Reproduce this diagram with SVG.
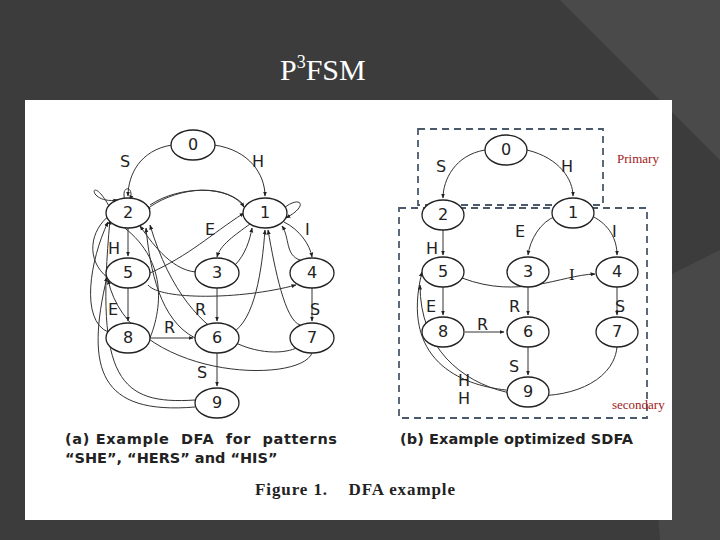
<svg xmlns="http://www.w3.org/2000/svg" width="720" height="540" viewBox="0 0 720 540">
<defs>
<marker id="a" viewBox="0 0 10 10" refX="9" refY="5" markerWidth="5" markerHeight="5" orient="auto"><path d="M0,1 L10,5 L0,9z" fill="#222"/></marker>
<style>
.n ellipse{fill:#fff;stroke:#222;stroke-width:1.3}
.n text{font-family:"DejaVu Sans",sans-serif;font-size:16px;text-anchor:middle;fill:#222}
.e path{fill:none;stroke:#333;stroke-width:1;marker-end:url(#a)}
.l{font-family:"DejaVu Sans",sans-serif;font-size:16px;fill:#222}
.cap{font-family:"DejaVu Sans",sans-serif;font-size:14.5px;font-weight:bold;fill:#222}
.box{fill:none;stroke:#4a5a6a;stroke-width:1.8;stroke-dasharray:7 5}
.red{font-family:"Liberation Serif",serif;font-size:13px;fill:#a02020}
</style>
</defs>
<rect width="720" height="540" fill="#3c3c3c"/>
<path d="M560,0 L720,0 L720,160 Z" fill="#4a4a4a"/>
<path d="M640,290 L720,250 L720,540 L660,540 Z" fill="#484848"/>
<text x="280" y="80" font-family="Liberation Serif,serif" font-size="30" fill="#fff">P<tspan font-size="18" dy="-12">3</tspan><tspan dy="12">FSM</tspan></text>
<rect x="25" y="100" width="647" height="420" fill="#fff"/>
<rect class="box" x="418" y="129" width="185" height="76"/>
<rect class="box" x="399" y="208" width="248" height="210"/>
<g id="edges-left" class="e">
<path d="M172,145 C140,150 128,175 128,196"/>
<path d="M214,145 C250,150 265,175 265,196"/>
<path d="M128,228 L128,256"/>
<path d="M128,288 L128,321"/>
<path d="M150,338 L193,338"/>
<path d="M217,288 L217,321"/>
<path d="M217,353 L217,386"/>
<path d="M312,288 L312,321"/>
<path d="M250,224 C235,235 220,245 217,257"/>
<path d="M284,222 C300,230 310,245 312,257"/>
<path d="M235,265 C245,255 250,240 252,228"/>
<path d="M232,333 C255,320 262,270 265,230"/>
<path d="M300,325 C285,320 275,270 268,230"/>
<path d="M300,260 C285,255 290,238 282,226"/>
<path d="M284,208 C300,195 310,205 286,218"/>
<path d="M150,273 C190,255 210,235 244,213"/>
<path d="M150,338 C165,300 165,250 110,218" />
<path d="M150,205 C180,185 230,185 244,207"/>
<path d="M244,205 C220,180 170,190 146,210"/>
<path d="M196,272 C170,270 150,240 140,226"/>
<path d="M195,338 C160,320 150,270 146,228"/>
<path d="M148,285 C160,300 240,300 296,285"/>
<path d="M300,346 C280,360 190,360 150,225"/>
<path d="M312,353 C300,385 130,380 108,280"/>
<path d="M195,400 C120,405 95,380 110,220"/>
<path d="M195,407 C100,415 85,370 107,277"/>
<path d="M108,332 C80,320 90,260 108,222"/>
<path d="M108,278 C85,260 90,230 110,215"/>
<path d="M110,208 C90,170 85,205 118,200"/>
<path d="M125,200 C120,185 135,185 130,200"/>
</g>
<g id="edges-right" class="e">
<path d="M485,150 C455,155 443,180 443,198"/>
<path d="M527,150 C560,158 573,180 573,196"/>
<path d="M443,230 L443,255"/>
<path d="M443,287 L443,315"/>
<path d="M465,332 L504,332"/>
<path d="M528,287 L528,315"/>
<path d="M528,347 L528,375"/>
<path d="M617,287 L617,315"/>
<path d="M556,216 C540,222 530,240 528,255"/>
<path d="M592,216 C610,225 617,240 617,255"/>
<path d="M462,278 C520,300 560,275 595,274"/>
<path d="M506,390 C460,385 400,360 422,272"/>
<path d="M617,347 C610,420 420,420 420,285"/>
</g>
<g class="l">
<text x="120" y="167">S</text><text x="252" y="167">H</text>
<text x="108" y="254">H</text><text x="108" y="315">E</text>
<text x="164" y="333">R</text><text x="195" y="315">R</text>
<text x="197" y="378">S</text><text x="310" y="315">S</text>
<text x="205" y="235">E</text><text x="305" y="235">I</text>
<text x="436" y="172">S</text><text x="561" y="172">H</text>
<text x="426" y="254">H</text><text x="426" y="312">E</text>
<text x="477" y="330">R</text><text x="509" y="312">R</text>
<text x="509" y="372">S</text><text x="615" y="312">S</text>
<text x="515" y="237">E</text><text x="612" y="237">I</text>
<text x="458" y="386">H</text><text x="458" y="404">H</text>
</g>
<text x="569" y="280" font-family="Liberation Serif,serif" font-size="17" fill="#222">I</text>
<text x="617" y="163" class="red">Primary</text>
<text x="612" y="409" class="red">secondary</text>
<g id="n0" class="n"><ellipse cx="193" cy="145" rx="22" ry="15"/><text x="193" y="150">0</text></g>
<g id="n2" class="n"><ellipse cx="128" cy="213" rx="22" ry="15"/><text x="128" y="218">2</text></g>
<g id="n1" class="n"><ellipse cx="265" cy="213" rx="22" ry="15"/><text x="265" y="218">1</text></g>
<g id="n5" class="n"><ellipse cx="128" cy="273" rx="22" ry="15"/><text x="128" y="278">5</text></g>
<g id="n3" class="n"><ellipse cx="217" cy="273" rx="22" ry="15"/><text x="217" y="278">3</text></g>
<g id="n4" class="n"><ellipse cx="312" cy="273" rx="22" ry="15"/><text x="312" y="278">4</text></g>
<g id="n8" class="n"><ellipse cx="128" cy="338" rx="22" ry="15"/><text x="128" y="343">8</text></g>
<g id="n6" class="n"><ellipse cx="217" cy="338" rx="22" ry="15"/><text x="217" y="343">6</text></g>
<g id="n7" class="n"><ellipse cx="312" cy="338" rx="22" ry="15"/><text x="312" y="343">7</text></g>
<g id="n9" class="n"><ellipse cx="217" cy="403" rx="22" ry="15"/><text x="217" y="408">9</text></g>
<g id="m0" class="n"><ellipse cx="506" cy="150" rx="21" ry="15"/><text x="506" y="155">0</text></g>
<g id="m2" class="n"><ellipse cx="443" cy="215" rx="21" ry="15"/><text x="443" y="220">2</text></g>
<g id="m1" class="n"><ellipse cx="573" cy="213" rx="21" ry="15"/><text x="573" y="218">1</text></g>
<g id="m5" class="n"><ellipse cx="443" cy="272" rx="21" ry="15"/><text x="443" y="277">5</text></g>
<g id="m3" class="n"><ellipse cx="528" cy="272" rx="21" ry="15"/><text x="528" y="277">3</text></g>
<g id="m4" class="n"><ellipse cx="617" cy="272" rx="21" ry="15"/><text x="617" y="277">4</text></g>
<g id="m8" class="n"><ellipse cx="443" cy="332" rx="21" ry="15"/><text x="443" y="337">8</text></g>
<g id="m6" class="n"><ellipse cx="528" cy="332" rx="21" ry="15"/><text x="528" y="337">6</text></g>
<g id="m7" class="n"><ellipse cx="617" cy="332" rx="21" ry="15"/><text x="617" y="337">7</text></g>
<g id="m9" class="n"><ellipse cx="528" cy="392" rx="21" ry="15"/><text x="528" y="397">9</text></g>
<text x="65" y="444" class="cap" xml:space="preserve" textLength="272">(a) Example  DFA  for  patterns</text>
<text x="65" y="463" class="cap">“SHE”, “HERS” and “HIS”</text>
<text x="400" y="444" class="cap" textLength="233">(b) Example optimized SDFA</text>
<text x="255" y="495" font-family="Liberation Serif,serif" font-size="17" font-weight="bold" fill="#222" xml:space="preserve" textLength="200">Figure 1.    DFA example</text>
</svg>
